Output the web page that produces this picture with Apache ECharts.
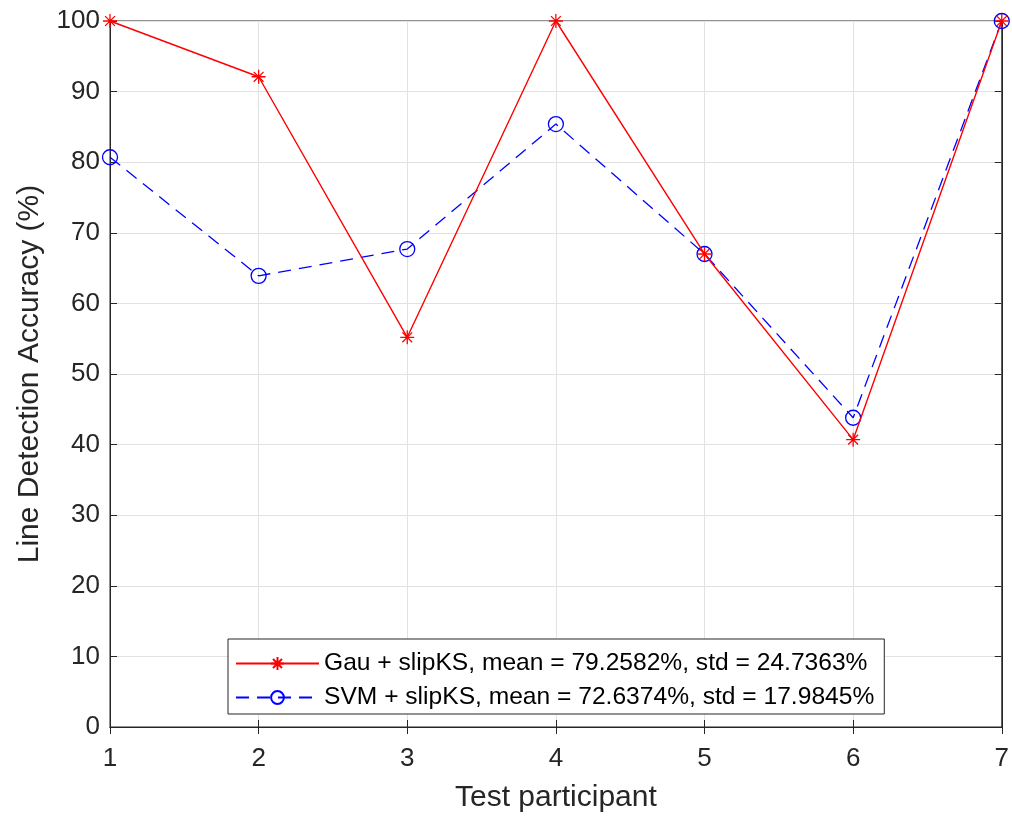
<!DOCTYPE html>
<html>
<head>
<meta charset="utf-8">
<script src="https://cdn.jsdelivr.net/npm/echarts@6/dist/echarts.min.js"></script>
<style>
    html, body { margin: 0; padding: 0; background: #fff; }
    #chart { width: 1012px; height: 818px; }
</style>
</head>
<body>
<div id="chart"></div>
<script>
    // participants on the x axis
    const participants = [1, 2, 3, 4, 5, 6, 7];
    // accuracy (%) per participant
    const gauValues = [100, 92.1, 55.2, 100, 67.0, 40.7, 100];
    const svmValues = [80.7, 63.9, 67.7, 85.4, 67.0, 43.8, 100];
    const seriesNames = [
        "Gau + slipKS, mean = 79.2582%, std = 24.7363%",
        "SVM + slipKS, mean = 72.6374%, std = 17.9845%"
    ];

    const axisColor = "#262626";
    const font = "Liberation Sans, Arial, Helvetica, sans-serif";
    // matlab-like asterisk (plus and cross)
    const asterisk = "path://M10,0L10,20M0,10L20,10M3,3L17,17M3,17L17,3";

    const pairs = function (ys) {
        return participants.map(function (x, i) { return [x, ys[i]]; });
    };

    const hiddenAxis = {
        axisLine: { show: true, lineStyle: { color: axisColor } },
        axisTick: { show: true, inside: true, length: 7, lineStyle: { color: axisColor } },
        axisLabel: { show: false },
        splitLine: { show: false }
    };

    const chart = echarts.init(document.getElementById("chart"));
    const option = {
        animation: false,
        backgroundColor: "#fff",
        grid: {
            left: 110, right: 10, top: 21, bottom: 91,
            show: true, borderColor: axisColor, borderWidth: 1
        },
        xAxis: [
            {
                type: "value", min: 1, max: 7, interval: 1,
                name: "Test participant", nameLocation: "middle", nameGap: 56,
                nameTextStyle: { fontFamily: font, fontSize: 30, color: axisColor },
                axisLine: { show: true, lineStyle: { color: axisColor } },
                axisTick: { show: true, inside: true, length: 7, lineStyle: { color: axisColor } },
                axisLabel: { fontFamily: font, fontSize: 26, color: axisColor, margin: 19 },
                splitLine: { show: true, lineStyle: { color: "#e2e2e2" } }
            },
            Object.assign({ type: "value", min: 1, max: 7, interval: 1, position: "top" }, hiddenAxis)
        ],
        yAxis: [
            {
                type: "value", min: 0, max: 100, interval: 10,
                name: "Line Detection Accuracy (%)", nameLocation: "middle", nameGap: 65,
                nameTextStyle: { fontFamily: font, fontSize: 30, color: axisColor },
                axisLine: { show: true, lineStyle: { color: axisColor } },
                axisTick: { show: true, inside: true, length: 7, lineStyle: { color: axisColor } },
                axisLabel: { fontFamily: font, fontSize: 26, color: axisColor, margin: 10 },
                splitLine: { show: true, lineStyle: { color: "#e2e2e2" } }
            },
            Object.assign({ type: "value", min: 0, max: 100, interval: 10, position: "right" }, hiddenAxis)
        ],
        legend: {
            orient: "vertical",
            left: 228, top: 639,
            backgroundColor: "#fff",
            borderColor: axisColor, borderWidth: 1,
            borderRadius: 0,
            padding: [12, 10, 4, 7],
            itemGap: 9,
            itemWidth: 83, itemHeight: 16,
            textStyle: { fontFamily: font, fontSize: 24.6, color: "#000" },
            data: seriesNames
        },
        series: [
            {
                name: seriesNames[0],
                type: "line",
                data: pairs(gauValues),
                symbol: asterisk,
                symbolSize: 14,
                itemStyle: { color: "#ff0000", borderColor: "#ff0000", borderWidth: 1.3 },
                lineStyle: { color: "#ff0000", width: 1.4, type: "solid" },
                z: 3
            },
            {
                name: seriesNames[1],
                type: "line",
                data: pairs(svmValues),
                symbol: "circle",
                symbolSize: 15,
                itemStyle: { color: "rgba(0,0,0,0)", borderColor: "#0000ff", borderWidth: 1.3 },
                lineStyle: { color: "#0000ff", width: 1.3, type: [13, 8] },
                z: 2
            }
        ]
    };
    chart.setOption(option);
</script>
</body>
</html>
